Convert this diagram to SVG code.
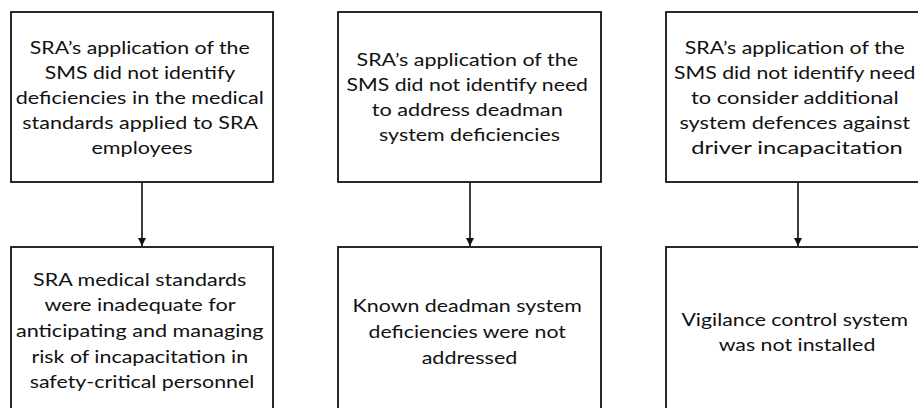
<svg xmlns="http://www.w3.org/2000/svg" width="918" height="408" viewBox="0 0 918 408">
  <style>
    .box { fill: #ffffff; stroke: #111111; stroke-width: 1.8; }
    .lbl { font-family: Lato, "Open Sans", "Liberation Sans", sans-serif; font-size: 17.5px; fill: #111111; text-anchor: middle; }
    .edge { fill: none; stroke: #111111; stroke-width: 1.6; }
  </style>
  <defs>
    <marker id="arrow" markerUnits="userSpaceOnUse" markerWidth="8" markerHeight="10" refX="8" refY="4" orient="auto">
      <path d="M0,0 L8,4 L0,8 Z" fill="#111111"/>
    </marker>
  </defs>
  <rect width="918" height="408" fill="#ffffff"/>

  <!-- top row: SMS application findings -->
  <g id="sms-medical">
    <rect class="box" x="11" y="12" width="262" height="170"/>
    <text class="lbl">
      <tspan x="142" y="54" textLength="220" lengthAdjust="spacingAndGlyphs">SRA’s application of the</tspan>
      <tspan x="142" y="79" textLength="190" lengthAdjust="spacingAndGlyphs">SMS did not identify</tspan>
      <tspan x="142" y="104" textLength="248" lengthAdjust="spacingAndGlyphs">deficiencies in the medical</tspan>
      <tspan x="142" y="129" textLength="235" lengthAdjust="spacingAndGlyphs">standards applied to SRA</tspan>
      <tspan x="142" y="154" textLength="101" lengthAdjust="spacingAndGlyphs">employees</tspan>
    </text>
  </g>
  <g id="sms-deadman">
    <rect class="box" x="338" y="12" width="263" height="170"/>
    <text class="lbl">
      <tspan x="469.5" y="65.5" textLength="221.5" lengthAdjust="spacingAndGlyphs">SRA’s application of the</tspan>
      <tspan x="469.5" y="90.5" textLength="241.5" lengthAdjust="spacingAndGlyphs">SMS did not identify need</tspan>
      <tspan x="469.5" y="116" textLength="191" lengthAdjust="spacingAndGlyphs">to address deadman</tspan>
      <tspan x="469.5" y="141" textLength="181" lengthAdjust="spacingAndGlyphs">system deficiencies</tspan>
    </text>
  </g>
  <g id="sms-defences">
    <rect class="box" x="666" y="12" width="264" height="170"/>
    <text class="lbl">
      <tspan x="797" y="54" textLength="220" lengthAdjust="spacingAndGlyphs">SRA’s application of the</tspan>
      <tspan x="797" y="79" textLength="241.5" lengthAdjust="spacingAndGlyphs">SMS did not identify need</tspan>
      <tspan x="797" y="104" textLength="207.7" lengthAdjust="spacingAndGlyphs">to consider additional</tspan>
      <tspan x="797" y="129" textLength="230.7" lengthAdjust="spacingAndGlyphs">system defences against</tspan>
      <tspan x="797" y="154" textLength="211.7" lengthAdjust="spacingAndGlyphs">driver incapacitation</tspan>
    </text>
  </g>

  <!-- bottom row: resulting conditions -->
  <g id="medical-standards">
    <rect class="box" x="11" y="247" width="262" height="200"/>
    <text class="lbl">
      <tspan x="142" y="285.7" textLength="213.3" lengthAdjust="spacingAndGlyphs">SRA medical standards</tspan>
      <tspan x="142" y="311.3" textLength="190.7" lengthAdjust="spacingAndGlyphs">were inadequate for</tspan>
      <tspan x="142" y="336.9" textLength="247.7" lengthAdjust="spacingAndGlyphs">anticipating and managing</tspan>
      <tspan x="142" y="362.5" textLength="216.7" lengthAdjust="spacingAndGlyphs">risk of incapacitation in</tspan>
      <tspan x="142" y="388.1" textLength="224.7" lengthAdjust="spacingAndGlyphs">safety-critical personnel</tspan>
    </text>
  </g>
  <g id="deadman-deficiencies">
    <rect class="box" x="338" y="247" width="263" height="200"/>
    <text class="lbl">
      <tspan x="469.5" y="311.5" textLength="229.3" lengthAdjust="spacingAndGlyphs">Known deadman system</tspan>
      <tspan x="469.5" y="337.5" textLength="197.3" lengthAdjust="spacingAndGlyphs">deficiencies were not</tspan>
      <tspan x="469.5" y="363.5" textLength="95.7" lengthAdjust="spacingAndGlyphs">addressed</tspan>
    </text>
  </g>
  <g id="vigilance-control">
    <rect class="box" x="666" y="247" width="264" height="200"/>
    <text class="lbl">
      <tspan x="797" y="325.5" textLength="226.7" lengthAdjust="spacingAndGlyphs">Vigilance control system</tspan>
      <tspan x="797" y="350.5" textLength="156.7" lengthAdjust="spacingAndGlyphs">was not installed</tspan>
    </text>
  </g>

  <!-- connectors -->
  <g id="connectors">
    <line class="edge" x1="142" y1="182" x2="142" y2="246" marker-end="url(#arrow)"/>
    <line class="edge" x1="470" y1="182" x2="470" y2="246" marker-end="url(#arrow)"/>
    <line class="edge" x1="798" y1="182" x2="798" y2="246" marker-end="url(#arrow)"/>
  </g>
</svg>
